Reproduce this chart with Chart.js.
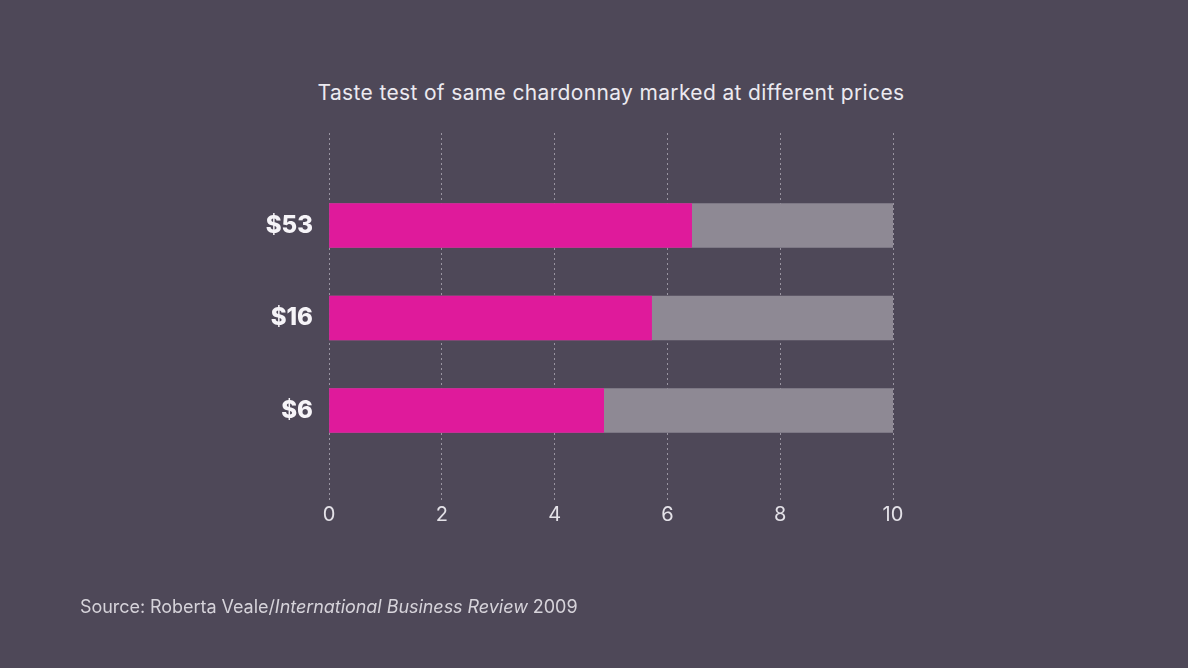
<!DOCTYPE html>
<html>
<head>
<meta charset="utf-8">
<script src="https://cdn.jsdelivr.net/npm/chart.js@4.4.1/dist/chart.umd.min.js"></script>
<style>
  html, body { margin: 0; padding: 0; background: #4e4858; }
  #wrap { position: relative; width: 1188px; height: 668px; overflow: hidden; }
  #chartBox { position: absolute; left: 0; top: 0; width: 1188px; height: 668px; }
  .title { position: absolute; top: 80px; left: 0; width: 1222px; text-align: center;
    font-family: Inter, "Open Sans", sans-serif; font-size: 21px; color: #eceaf0; letter-spacing: 0.35px; }
  .source { position: absolute; left: 80px; top: 596px; font-family: Inter, "Open Sans", sans-serif;
    font-size: 18px; color: #d6d3da; letter-spacing: -0.05px; }
</style>
</head>
<body>
<div id="wrap">
  <div class="title">Taste test of same chardonnay marked at different prices</div>
  <div id="chartBox"><canvas id="barChart"></canvas></div>
  <div class="source">Source: Roberta Veale/<i>International Business Review</i> 2009</div>
</div>
<script>
// data
const prices = ["$53", "$16", "$6"];
const scores = [6.43, 5.72, 4.87];
const fullScale = [10, 10, 10];
const xTicks = [0, 2, 4, 6, 8, 10];

// empty rows above and below so the dotted grid runs past the bars
const labels = ["", ...prices, ""];
const pad = (arr) => [null, ...arr, null];

let ctx = document.getElementById("barChart").getContext("2d");
new Chart(ctx, {
  type: "bar",
  data: {
    labels: labels,
    datasets: [
      {
        label: "Score",
        data: pad(scores),
        backgroundColor: "#df1a9b",
        barThickness: 44,
        grouped: false,
        order: 0
      },
      {
        label: "Scale",
        data: pad(fullScale),
        backgroundColor: "#8e8994",
        barThickness: 44,
        grouped: false,
        order: 1
      }
    ]
  },
  options: {
    indexAxis: "y",
    responsive: true,
    maintainAspectRatio: false,
    animation: false,
    layout: { padding: { left: 0, right: 295, top: 133, bottom: 141 } },
    plugins: { legend: { display: false }, tooltip: { enabled: false } },
    scales: {
      x: {
        min: 0,
        max: 10,
        afterBuildTicks: (s) => { s.ticks = xTicks.map(v => ({ value: v })); },
        grid: { color: "rgba(215,212,222,0.55)", lineWidth: 1, drawTicks: false },
        border: { display: false, dash: [2, 3] },
        ticks: {
          padding: 0,
          color: "#e4e2e8",
          font: { family: "Inter, 'Open Sans', sans-serif", size: 20 }
        }
      },
      y: {
        offset: false,
        afterFit: (s) => { s.width = 329; },
        grid: { display: false },
        border: { display: false },
        ticks: {
          padding: 8,
          color: "#f6f4f8",
          font: { family: "Inter, 'Open Sans', sans-serif", size: 24, weight: "800" }
        }
      }
    }
  }
});
</script>
</body>
</html>
